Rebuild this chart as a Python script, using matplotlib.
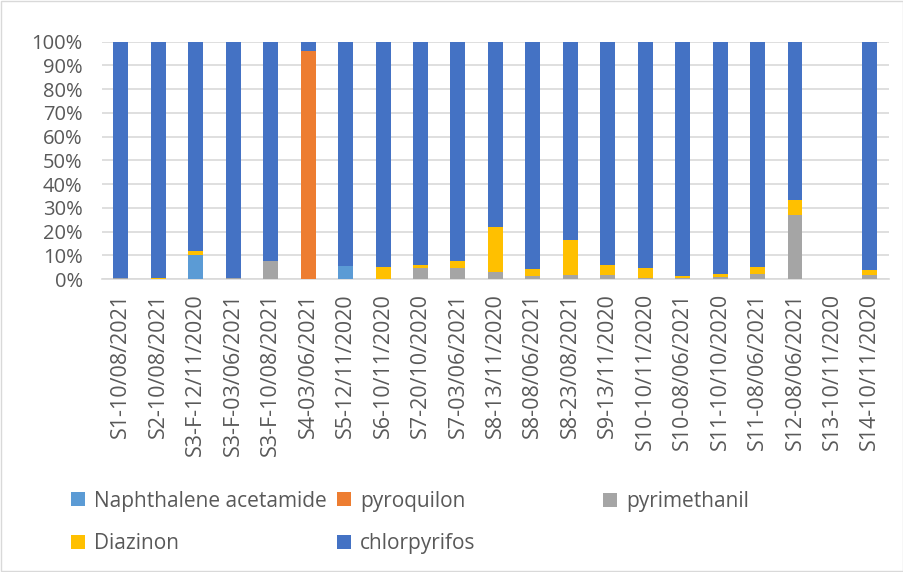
import numpy as np
import matplotlib.pyplot as plt
from matplotlib.lines import Line2D
from matplotlib.ticker import PercentFormatter

plt.rcParams['font.family'] = ['Open Sans', 'DejaVu Sans']

# sample labels
samples = ["S1-10/08/2021", "S2-10/08/2021", "S3-F-12/11/2020", "S3-F-03/06/2021",
           "S3-F-10/08/2021", "S4-03/06/2021", "S5-12/11/2020", "S6-10/11/2020",
           "S7-20/10/2020", "S7-03/06/2021", "S8-13/11/2020", "S8-08/06/2021",
           "S8-23/08/2021", "S9-13/11/2020", "S10-10/11/2020", "S10-08/06/2021",
           "S11-10/10/2020", "S11-08/06/2021", "S12-08/06/2021", "S13-10/11/2020",
           "S14-10/11/2020"]

# share of each pesticide (%)
naphthalene = [0, 0, 10.3, 0, 0, 0, 5.5, 0, 0, 0, 0, 0, 0, 0, 0, 0, 0, 0, 0, 0, 0]
pyroquilon = [0, 0, 0, 0, 0, 96.0, 0, 0, 0, 0, 0, 0, 0, 0, 0, 0, 0, 0, 0, 0, 0]
pyrimethanil = [0.3, 0, 0, 0.3, 7.7, 0, 0, 0, 4.8, 4.9, 3.1, 1.4, 1.7, 1.7, 0.3, 0.4,
                1.1, 2.0, 27.1, 0, 1.6]
diazinon = [0, 0.6, 1.5, 0, 0, 0, 0, 5.2, 1.2, 2.8, 18.9, 2.9, 14.9, 4.2, 4.3, 0.9,
            1.0, 3.1, 6.2, 0, 2.2]
chlorpyrifos = [99.7, 99.4, 88.2, 99.7, 92.3, 4.0, 94.5, 94.8, 94.0, 92.3, 78.0, 95.7,
                83.4, 94.1, 95.4, 98.7, 97.9, 94.9, 66.7, 0, 96.2]

series = [("Naphthalene acetamide", naphthalene, "#5B9BD5"),
          ("pyroquilon", pyroquilon, "#ED7D31"),
          ("pyrimethanil", pyrimethanil, "#A5A5A5"),
          ("Diazinon", diazinon, "#FFC000"),
          ("chlorpyrifos", chlorpyrifos, "#4472C4")]

fig = plt.figure(figsize=(9.04, 5.72), dpi=100)
ax = fig.add_axes([0.113, 0.512, 0.870, 0.415])

x = np.arange(len(samples))
bottom = np.zeros(len(samples))
for name, vals, col in series:
    vals = np.array(vals)
    ax.bar(x, vals, 0.4, bottom=bottom, color=col, label=name, zorder=3)
    bottom += vals

ax.set_xlim(-0.5, len(samples) - 0.5)
ax.set_ylim(0, 100)
ax.set_yticks(np.arange(0, 101, 10))
ax.yaxis.set_major_formatter(PercentFormatter(decimals=0))
ax.grid(axis='y', color='#D9D9D9', linewidth=1.2, zorder=0)
for s in ['top', 'right', 'left']:
    ax.spines[s].set_visible(False)
ax.spines['bottom'].set_color('#D9D9D9')
ax.spines['bottom'].set_linewidth(1.2)
ax.set_xticks(x)
ax.set_xticklabels(samples, rotation=90)
ax.tick_params(axis='both', length=0, colors='#595959')
ax.tick_params(axis='x', labelsize=15.5, pad=10)
ax.tick_params(axis='y', labelsize=14.5, pad=14)

# square legend markers
handles = [Line2D([], [], linestyle='none', marker='s', markersize=9.5,
                  markerfacecolor=col, markeredgewidth=0) for _, _, col in series]

# legend: three columns placed like the original
legend_cols = [([0, 3], 72, 0.0865), ([1, 4], 338, 0.0865), ([2], 604, 0.1225)]
for idx, xpix, yc in legend_cols:
    fig.legend([handles[i] for i in idx], [series[i][0] for i in idx],
               loc='center left', bbox_to_anchor=(xpix / 904, yc),
               frameon=False, fontsize=15, labelcolor='#595959',
               handlelength=0.62, handletextpad=0.45,
               labelspacing=1.05, borderpad=0, borderaxespad=0)

fig.patches.append(plt.Rectangle((0.001, 0.001), 0.998, 0.998, transform=fig.transFigure,
                                 fill=False, edgecolor='#D9D9D9', linewidth=1))

fig.savefig("out.png", dpi=100)
